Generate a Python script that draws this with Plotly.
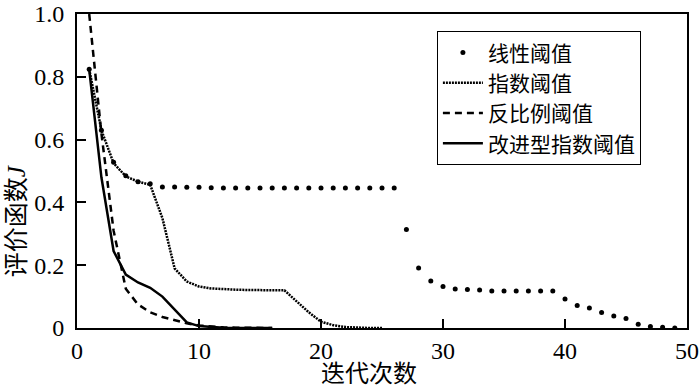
import plotly.graph_objects as go

# ---- data ----
linear_x = list(range(1, 50))
linear_y = [0.824, 0.63, 0.528, 0.485, 0.466, 0.459,
            0.449, 0.449, 0.448, 0.448, 0.447, 0.446, 0.446, 0.446, 0.446, 0.446,
            0.446, 0.446, 0.446, 0.446, 0.446, 0.446, 0.446, 0.446, 0.446, 0.446,
            0.314, 0.191, 0.150, 0.132, 0.124, 0.123, 0.121,
            0.118, 0.118, 0.118, 0.118, 0.118, 0.118,
            0.092, 0.072, 0.064, 0.049, 0.038, 0.030, 0.012, 0.005, 0.002, 0.0]

exp_x = list(range(1, 26))
exp_y = [0.824, 0.63, 0.525, 0.483, 0.466, 0.456, 0.35, 0.19, 0.148, 0.132,
         0.126, 0.123, 0.122, 0.121, 0.121, 0.121, 0.120, 0.085, 0.05, 0.02,
         0.009, 0.003, 0.001, 0.0, 0.0]

inv_x = list(range(1, 17))
inv_y = [1.0, 0.62, 0.31, 0.125, 0.075, 0.05, 0.035, 0.024, 0.015, 0.008,
         0.004, 0.002, 0.001, 0.001, 0.0, 0.0]

imp_x = list(range(1, 17))
imp_y = [0.824, 0.48, 0.245, 0.17, 0.145, 0.128, 0.10, 0.058, 0.018, 0.006,
         0.003, 0.001, 0.0, 0.0, 0.0, 0.0]

names = ["线性阈值", "指数阈值", "反比例阈值", "改进型指数阈值"]
x_ticks = [0, 10, 20, 30, 40, 50]
y_ticks = [0, 0.2, 0.4, 0.6, 0.8, 1.0]
y_tick_text = ["0", "0.2", "0.4", "0.6", "0.8", "1.0"]

serif = "Liberation Serif, Noto Sans CJK SC"
cjk = "Liberation Serif, Noto Sans CJK SC"

fig = go.Figure()
fig.add_trace(go.Scatter(x=linear_x, y=linear_y, mode="markers", name=names[0],
                         marker=dict(color="black", size=5)))
fig.add_trace(go.Scatter(x=exp_x, y=exp_y, mode="lines", name=names[1],
                         line=dict(color="black", width=2.5, dash="2px,1px")))
fig.add_trace(go.Scatter(x=inv_x, y=inv_y, mode="lines", name=names[2],
                         line=dict(color="black", width=2.5, dash="7px,5px")))
fig.add_trace(go.Scatter(x=imp_x, y=imp_y, mode="lines", name=names[3],
                         line=dict(color="black", width=2.5)))

axis_common = dict(showline=True, linecolor="black", linewidth=2, mirror=True,
                   ticks="inside", ticklen=9, tickwidth=1.5, tickcolor="black",
                   showgrid=False, zeroline=False, automargin=False,
                   tickfont=dict(family=serif, size=24, color="black"))

fig.update_xaxes(range=[0, 50], tickvals=x_ticks, **axis_common)
fig.update_yaxes(range=[0, 1], tickvals=y_ticks, ticktext=y_tick_text,
                 ticklabelstandoff=6, **axis_common)

fig.add_annotation(text="迭代次数", xref="paper", yref="paper", x=0.479, y=-0.148,
                   xanchor="center", yanchor="middle", showarrow=False,
                   font=dict(family=cjk, size=24, color="black"))
fig.add_annotation(text="评价函数<i>J</i>", xref="paper", yref="paper", x=-0.1, y=0.34,
                   xanchor="center", yanchor="middle", showarrow=False, textangle=-90,
                   font=dict(family=cjk, size=25, color="black"))

fig.update_layout(
    width=700, height=388,
    margin=dict(l=77, r=13, t=14, b=60, autoexpand=False),
    plot_bgcolor="white", paper_bgcolor="white",
    legend=dict(x=0.59, y=0.945, xanchor="left", yanchor="top",
                bordercolor="black", borderwidth=1, bgcolor="white",
                font=dict(family=cjk, size=21, color="black"),
                itemwidth=40, tracegroupgap=0),
    showlegend=True,
)

fig.write_html("out.html", config={"displayModeBar": False},
               post_script="document.body.style.margin='0';document.body.style.overflow='hidden';")
